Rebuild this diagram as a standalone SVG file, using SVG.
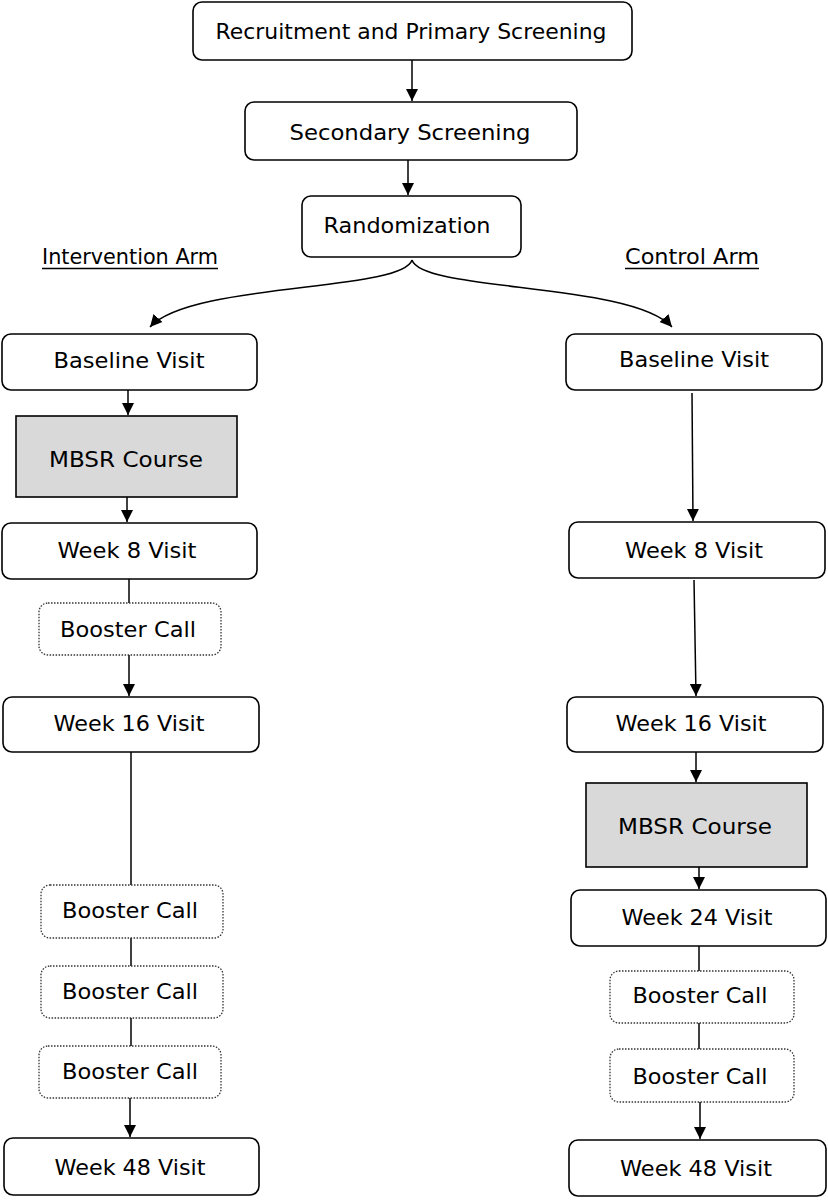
<svg xmlns="http://www.w3.org/2000/svg" width="828" height="1200" viewBox="0 0 828 1200">
<style>
.box{fill:#fff;stroke:#000;stroke-width:1.6}
.dot{fill:#fff;stroke:#333;stroke-width:1.3;stroke-dasharray:1.5 1.5}
.mbsr{fill:#d9d9d9;stroke:#000;stroke-width:1.6}
text{font-family:"DejaVu Sans","Liberation Sans",Arial,sans-serif;font-size:21px;fill:#000;text-anchor:middle}
.ln{fill:none;stroke:#000;stroke-width:1.5}
</style>
<defs>
<marker id="ah" markerUnits="userSpaceOnUse" markerWidth="14" markerHeight="14" viewBox="0 0 14 14" refX="12" refY="7" orient="auto">
<path d="M0,1 L12,7 L0,13 Z" fill="#000"/>
</marker>
</defs>
<rect width="828" height="1200" fill="#fff"/>
<g id="connectors">
<line class="ln" x1="412" y1="60" x2="412" y2="101" marker-end="url(#ah)"/>
<line class="ln" x1="408" y1="160" x2="408" y2="195" marker-end="url(#ah)"/>
<path class="ln" d="M412,260 C402,292 190,282 150,327" marker-end="url(#ah)"/>
<path class="ln" d="M412,260 C422,292 632,282 672,327" marker-end="url(#ah)"/>
<line class="ln" x1="128" y1="390" x2="128" y2="415" marker-end="url(#ah)"/>
<line class="ln" x1="127" y1="497" x2="127" y2="522" marker-end="url(#ah)"/>
<line class="ln" x1="129" y1="579" x2="129" y2="603"/>
<line class="ln" x1="129" y1="655" x2="129" y2="696" marker-end="url(#ah)"/>
<line class="ln" x1="131" y1="752" x2="131" y2="885"/>
<line class="ln" x1="131" y1="938" x2="131" y2="966"/>
<line class="ln" x1="131" y1="1018" x2="131" y2="1046"/>
<line class="ln" x1="130" y1="1098" x2="130" y2="1137" marker-end="url(#ah)"/>
<line class="ln" x1="692" y1="393" x2="693" y2="521" marker-end="url(#ah)"/>
<line class="ln" x1="694" y1="580" x2="696" y2="696" marker-end="url(#ah)"/>
<line class="ln" x1="696" y1="752" x2="696" y2="782" marker-end="url(#ah)"/>
<line class="ln" x1="699" y1="867" x2="699" y2="889" marker-end="url(#ah)"/>
<line class="ln" x1="699" y1="946" x2="699" y2="971"/>
<line class="ln" x1="699" y1="1023" x2="699" y2="1049"/>
<line class="ln" x1="700" y1="1102" x2="700" y2="1139" marker-end="url(#ah)"/>
</g>
<g id="recruitment"><rect class="box" x="193" y="2" width="439" height="58" rx="9"/><text x="411" y="39" textLength="391" lengthAdjust="spacingAndGlyphs">Recruitment and Primary Screening</text></g>
<g id="secondary"><rect class="box" x="245" y="102" width="332" height="58" rx="9"/><text x="410" y="140" textLength="241" lengthAdjust="spacingAndGlyphs">Secondary Screening</text></g>
<g id="randomization"><rect class="box" x="302" y="196" width="219" height="61" rx="9"/><text x="407" y="233" textLength="167" lengthAdjust="spacingAndGlyphs">Randomization</text></g>
<g id="intervention-label"><text x="130" y="264" textLength="176" lengthAdjust="spacingAndGlyphs">Intervention Arm</text><line x1="42" y1="268.5" x2="218" y2="268.5" stroke="#000" stroke-width="1.4"/></g>
<g id="control-label"><text x="692" y="264" textLength="134" lengthAdjust="spacingAndGlyphs">Control Arm</text><line x1="625" y1="268.5" x2="759" y2="268.5" stroke="#000" stroke-width="1.4"/></g>
<g id="l-baseline"><rect class="box" x="2" y="334" width="255" height="56" rx="9"/><text x="129" y="368" textLength="151" lengthAdjust="spacingAndGlyphs">Baseline Visit</text></g>
<g id="l-mbsr"><rect class="mbsr" x="16" y="416" width="221" height="81"/><text x="126" y="467" textLength="154" lengthAdjust="spacingAndGlyphs">MBSR Course</text></g>
<g id="l-week8"><rect class="box" x="2" y="523" width="255" height="56" rx="9"/><text x="127" y="558" textLength="139" lengthAdjust="spacingAndGlyphs">Week 8 Visit</text></g>
<g id="l-booster1"><rect class="dot" x="39" y="603" width="182" height="52" rx="9"/><text x="128" y="637" textLength="136" lengthAdjust="spacingAndGlyphs">Booster Call</text></g>
<g id="l-week16"><rect class="box" x="3" y="697" width="256" height="55" rx="9"/><text x="129" y="731" textLength="151" lengthAdjust="spacingAndGlyphs">Week 16 Visit</text></g>
<g id="l-booster2"><rect class="dot" x="41" y="885" width="182" height="53" rx="9"/><text x="130" y="918" textLength="136" lengthAdjust="spacingAndGlyphs">Booster Call</text></g>
<g id="l-booster3"><rect class="dot" x="41" y="966" width="182" height="52" rx="9"/><text x="130" y="999" textLength="136" lengthAdjust="spacingAndGlyphs">Booster Call</text></g>
<g id="l-booster4"><rect class="dot" x="39" y="1046" width="182" height="52" rx="9"/><text x="130" y="1079" textLength="136" lengthAdjust="spacingAndGlyphs">Booster Call</text></g>
<g id="l-week48"><rect class="box" x="4" y="1138" width="255" height="57" rx="9"/><text x="130" y="1175" textLength="151" lengthAdjust="spacingAndGlyphs">Week 48 Visit</text></g>
<g id="r-baseline"><rect class="box" x="566" y="334" width="256" height="56" rx="9"/><text x="694" y="367" textLength="150" lengthAdjust="spacingAndGlyphs">Baseline Visit</text></g>
<g id="r-week8"><rect class="box" x="569" y="522" width="256" height="56" rx="9"/><text x="694" y="558" textLength="138" lengthAdjust="spacingAndGlyphs">Week 8 Visit</text></g>
<g id="r-week16"><rect class="box" x="567" y="697" width="256" height="55" rx="9"/><text x="691" y="731" textLength="151" lengthAdjust="spacingAndGlyphs">Week 16 Visit</text></g>
<g id="r-mbsr"><rect class="mbsr" x="586" y="783" width="221" height="84"/><text x="695" y="834" textLength="154" lengthAdjust="spacingAndGlyphs">MBSR Course</text></g>
<g id="r-week24"><rect class="box" x="571" y="890" width="255" height="56" rx="9"/><text x="697" y="925" textLength="151" lengthAdjust="spacingAndGlyphs">Week 24 Visit</text></g>
<g id="r-booster1"><rect class="dot" x="610" y="971" width="184" height="52" rx="9"/><text x="700" y="1003" textLength="135" lengthAdjust="spacingAndGlyphs">Booster Call</text></g>
<g id="r-booster2"><rect class="dot" x="610" y="1049" width="184" height="53" rx="9"/><text x="700" y="1084" textLength="135" lengthAdjust="spacingAndGlyphs">Booster Call</text></g>
<g id="r-week48"><rect class="box" x="569" y="1140" width="257" height="56" rx="9"/><text x="696" y="1176" textLength="152" lengthAdjust="spacingAndGlyphs">Week 48 Visit</text></g>
</svg>
